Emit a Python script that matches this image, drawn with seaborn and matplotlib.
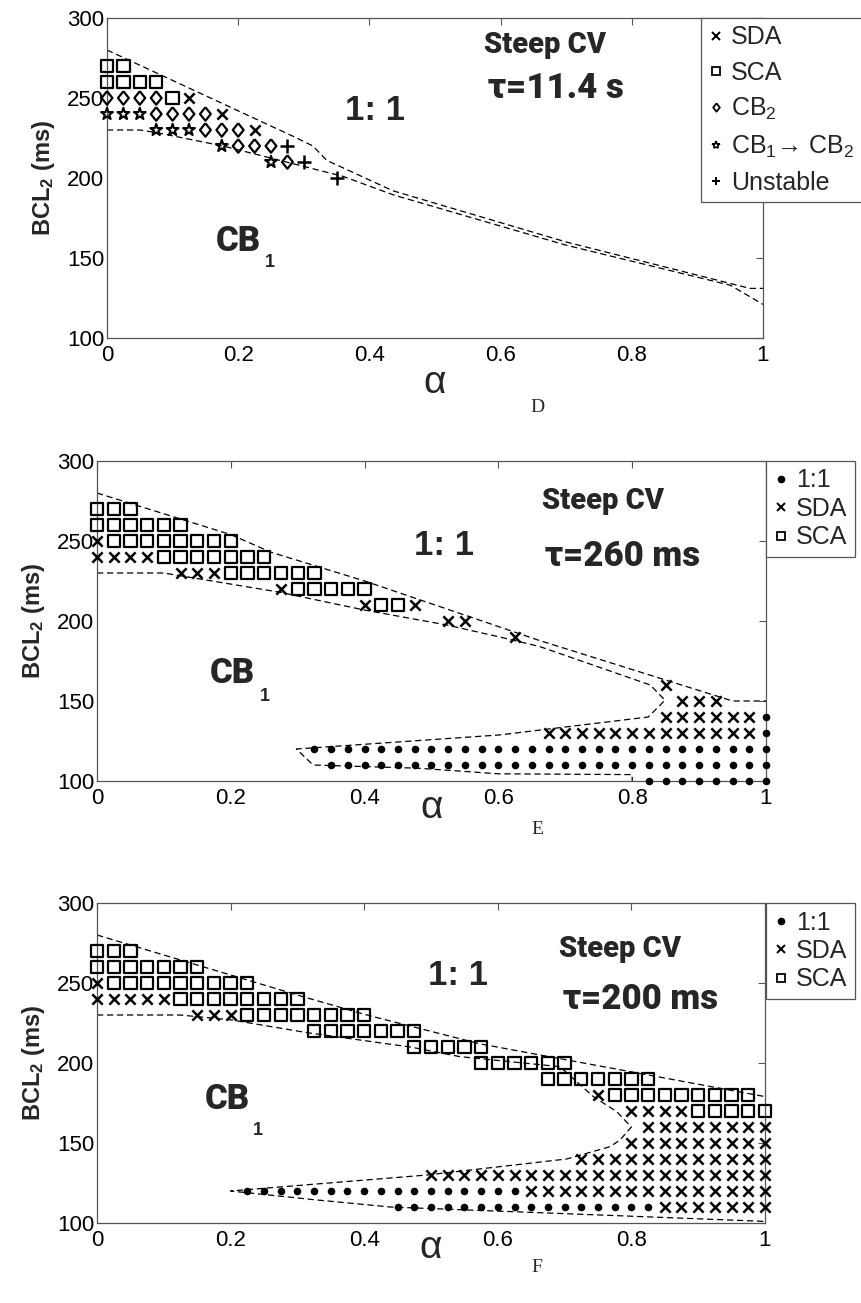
import numpy as np
import pandas as pd
import matplotlib
matplotlib.use("Agg")
import matplotlib.pyplot as plt
from matplotlib.lines import Line2D
import seaborn as sns

sns.set_theme(style="white")
plt.rcParams["font.family"] = ["Liberation Sans", "DejaVu Sans"]
plt.rcParams["mathtext.default"] = "regular"

STEP = 0.025  # alpha spacing of the simulation grid

# ---- Panel D (tau = 11.4 s): runs of (BCL2, first alpha, last alpha) ----
D_SDA = [(250, 0.125, 0.125), (240, 0.175, 0.175), (230, 0.225, 0.225)]
D_SCA = [(270, 0.0, 0.025), (260, 0.0, 0.075), (250, 0.1, 0.1)]
D_CB2 = [(250, 0.0, 0.075), (240, 0.075, 0.15), (230, 0.15, 0.2),
         (220, 0.2, 0.25), (210, 0.275, 0.275)]
D_CB12 = [(240, 0.0, 0.05), (230, 0.075, 0.125), (220, 0.175, 0.175),
          (210, 0.25, 0.25)]
D_UNST = [(220, 0.275, 0.275), (210, 0.3, 0.3), (200, 0.35, 0.35)]

D_upper_a = [0.0, 0.284, 0.314, 0.335, 0.436, 0.7, 0.98, 1.0]
D_upper_b = [280, 226, 220, 211, 192, 160, 131, 131]
D_lower_a = [0.0, 0.05, 0.08, 0.177, 0.36, 0.436, 0.7, 0.95, 1.0]
D_lower_b = [230, 230, 228, 220, 201, 189.5, 158, 133, 121]

# ---- Panel E (tau = 260 ms) ----
E_ONE = [(140, 1.0, 1.0), (130, 1.0, 1.0), (120, 0.325, 1.0),
         (110, 0.35, 1.0), (100, 0.825, 1.0)]
E_SDA = [(250, 0.0, 0.0), (240, 0.0, 0.075), (230, 0.125, 0.175),
         (220, 0.275, 0.275), (210, 0.4, 0.4), (210, 0.475, 0.475),
         (200, 0.525, 0.55), (190, 0.625, 0.625), (160, 0.85, 0.85),
         (150, 0.875, 0.925), (140, 0.85, 0.975), (130, 0.675, 0.975)]
E_SCA = [(270, 0.0, 0.05), (260, 0.0, 0.125), (250, 0.025, 0.2),
         (240, 0.1, 0.25), (230, 0.2, 0.325), (220, 0.3, 0.4),
         (210, 0.425, 0.45)]

E_upper_a = [0.0, 0.2, 0.26, 0.4, 0.66, 0.95, 1.0]
E_upper_b = [280, 254, 243, 225, 188, 150, 150]
E_bound_a = [0.0, 0.1, 0.273, 0.398, 0.523, 0.602, 0.662, 0.827, 0.849,
             0.824, 0.602, 0.298, 0.323, 0.48, 0.6, 0.8, 0.8]
E_bound_b = [230, 230, 218, 207, 197.5, 190, 184, 160, 150.5,
             140, 128.8, 120, 110, 108, 104.5, 104, 100]

# ---- Panel F (tau = 200 ms) ----
F_ONE = [(120, 0.225, 0.625), (110, 0.45, 0.825)]
F_SDA = [(250, 0.0, 0.0), (240, 0.0, 0.1), (230, 0.15, 0.2),
         (180, 0.75, 0.75), (170, 0.8, 0.875), (160, 0.825, 1.0),
         (150, 0.8, 1.0), (140, 0.725, 1.0), (130, 0.5, 1.0),
         (120, 0.65, 1.0), (110, 0.85, 1.0)]
F_SCA = [(270, 0.0, 0.05), (260, 0.0, 0.15), (250, 0.025, 0.225),
         (240, 0.125, 0.3), (230, 0.225, 0.4), (220, 0.325, 0.475),
         (210, 0.475, 0.575), (200, 0.575, 0.7), (190, 0.675, 0.825),
         (180, 0.775, 0.975), (170, 0.9, 1.0)]

F_upper_a = [0.0, 0.308, 0.404, 0.573, 1.0]
F_upper_b = [280, 241.5, 230, 212, 179]
F_bound_a = [0.0, 0.124, 0.2, 0.314, 0.469, 0.543, 0.693, 0.743, 0.778,
             0.8, 0.783, 0.768, 0.703, 0.494, 0.2, 0.324, 0.439, 0.753, 1.0]
F_bound_b = [230, 230, 227, 219, 210, 204, 197.7, 179, 169.6,
             160, 151.9, 147.7, 140, 130, 120, 114.6, 110, 105, 101]

X_TICKS = [0, 0.2, 0.4, 0.6, 0.8, 1]
X_TICKLABELS = ["0", "0.2", "0.4", "0.6", "0.8", "1"]
Y_TICKS = [100, 150, 200, 250, 300]

INK = "black"
HEAVY = ["Roboto", "Lato", "DejaVu Sans"]

# open diamond, a little taller than wide
DIAMOND = [(0, 1), (0.8, 0), (0, -1), (-0.8, 0), (0, 1)]

STYLES = {
    "1:1": dict(marker="o", s=30, color=INK, linewidth=0),
    "SDA": dict(marker="x", s=55, color=INK, linewidth=1.8),
    "SCA": dict(marker="s", s=78, facecolor="none", edgecolor=INK, linewidth=1.6),
    "CB2": dict(marker=DIAMOND, s=95, facecolor="none", edgecolor=INK, linewidth=1.6),
    "CB12": dict(marker="*", s=80, facecolor="none", edgecolor=INK, linewidth=1.5),
    "Unstable": dict(marker="+", s=110, color=INK, linewidth=1.8),
}


def expand(runs):
    rows = []
    for bcl, a0, a1 in runs:
        for a in np.arange(a0, a1 + STEP / 2, STEP):
            rows.append((round(a, 3), bcl))
    return pd.DataFrame(rows, columns=["alpha", "bcl"])


def draw_points(ax, runs, kind):
    df = expand(runs)
    sns.scatterplot(data=df, x="alpha", y="bcl", ax=ax, clip_on=False,
                    zorder=3, legend=False, **STYLES[kind])


def draw_line(ax, a, b):
    df = pd.DataFrame({"alpha": a, "bcl": b})
    sns.lineplot(data=df, x="alpha", y="bcl", ax=ax, sort=False,
                 estimator=None, color=INK, linewidth=0.9,
                 linestyle=(0, (5, 3)), zorder=2)


def style_axes(ax):
    ax.set_xlim(0, 1)
    ax.set_ylim(100, 300)
    ax.set_xticks(X_TICKS)
    ax.set_xticklabels(X_TICKLABELS)
    ax.set_yticks(Y_TICKS)
    ax.tick_params(direction="in", top=True, right=True, length=5,
                   width=0.8, color="#555555", labelsize=16, pad=2,
                   labelcolor="black")
    ax.tick_params(axis="x", pad=5)
    for sp in ax.spines.values():
        sp.set_color("#555555")
        sp.set_linewidth(0.9)
    ax.set_xlabel("")
    ax.set_ylabel("")


def heavy(ax, x, y, s, size):
    ax.text(x, y, s, fontsize=size, fontweight="black", family=HEAVY,
            ha="center", va="center", zorder=4)


def legend_handle(kind, ms):
    st = STYLES[kind]
    mk = st["marker"]
    face = "none" if st.get("facecolor") == "none" else INK
    lw = st.get("linewidth", 1.0)
    return Line2D([], [], linestyle="none", marker=mk, markersize=ms,
                  markerfacecolor=face, markeredgecolor=INK,
                  markeredgewidth=max(lw * 0.8, 0.8) if lw else 0)


fig = plt.figure(figsize=(8.61, 13.03), dpi=100)
W, H = 861, 1303


def add_axes(left, top, right, bottom):
    return fig.add_axes([left / W, 1 - bottom / H, (right - left) / W,
                         (bottom - top) / H])


axD = add_axes(107, 18, 763, 338)
axE = add_axes(97, 461, 766, 781)
axF = add_axes(97, 903, 765, 1223)

# Panel D
for a, b in [(D_upper_a, D_upper_b), (D_lower_a, D_lower_b)]:
    draw_line(axD, a, b)
draw_points(axD, D_SCA, "SCA")
draw_points(axD, D_CB2, "CB2")
draw_points(axD, D_CB12, "CB12")
draw_points(axD, D_SDA, "SDA")
draw_points(axD, D_UNST, "Unstable")

# Panel E
for a, b in [(E_upper_a, E_upper_b), (E_bound_a, E_bound_b)]:
    draw_line(axE, a, b)
draw_points(axE, E_SCA, "SCA")
draw_points(axE, E_SDA, "SDA")
draw_points(axE, E_ONE, "1:1")

# Panel F
for a, b in [(F_upper_a, F_upper_b), (F_bound_a, F_bound_b)]:
    draw_line(axF, a, b)
draw_points(axF, F_SCA, "SCA")
draw_points(axF, F_SDA, "SDA")
draw_points(axF, F_ONE, "1:1")

for ax, tau, one_xy, steep_xy, tau_xy, cb_xy, sub_xy, alpha_y, letter, letter_y in [
    (axD, "τ=11.4 s", (0.408, 242), (0.668, 283), (0.684, 256),
     (0.2, 160.6), (0.248, 147), 383, "D", 408),
    (axE, "τ=260 ms", (0.519, 247), (0.757, 275), (0.786, 240),
     (0.2025, 167), (0.251, 152.8), 808, "E", 829),
    (axF, "τ=200 ms", (0.54, 255), (0.783, 271), (0.814, 239.4),
     (0.195, 177), (0.241, 158), 1248, "F", 1268),
]:
    style_axes(ax)
    ax.text(*one_xy, "1: 1", fontsize=25, fontweight="bold",
            ha="center", va="center", zorder=4)
    heavy(ax, *steep_xy, "Steep CV", 21)
    heavy(ax, *tau_xy, tau, 25)
    heavy(ax, *cb_xy, "CB", 25)
    ax.text(*sub_xy, "1", fontsize=13, fontweight="bold",
            ha="center", va="center", zorder=4)
    ax.set_ylabel("BCL$_2$ (ms)", fontsize=17, fontweight="bold", labelpad=7)
    bb = ax.get_position()
    fig.text((bb.x0 + bb.x1) / 2, 1 - alpha_y / H, "α", fontsize=28,
             ha="center", va="center")
    fig.text(537 / W, 1 - letter_y / H, letter, fontsize=14,
             family=["Liberation Serif", "DejaVu Serif"], ha="center",
             va="center")

legD = fig.legend(
    [legend_handle(k, 6) for k in ["SDA", "SCA", "CB2", "CB12", "Unstable"]],
    ["SDA", "SCA", "CB$_2$", "CB$_1$→ CB$_2$", "Unstable"],
    loc="upper left", bbox_to_anchor=(701 / W, 1 - 18 / H),
    frameon=True, fancybox=False, framealpha=1, edgecolor="#555555",
    fontsize=18, handlelength=0.6, handletextpad=0.3, borderpad=0.3,
    labelspacing=0.45, borderaxespad=0)
legD.get_frame().set_linewidth(0.9)

for top in (461, 903):
    lg = fig.legend(
        [legend_handle(k, 5.5) for k in ["1:1", "SDA", "SCA"]],
        ["1:1", "SDA", "SCA"],
        loc="upper left", bbox_to_anchor=(766 / W, 1 - top / H),
        frameon=True, fancybox=False, framealpha=1, edgecolor="#555555",
        fontsize=18, handlelength=0.6, handletextpad=0.3, borderpad=0.3,
        labelspacing=0.18, borderaxespad=0)
    lg.get_frame().set_linewidth(0.9)

fig.savefig("out.png", dpi=100)
